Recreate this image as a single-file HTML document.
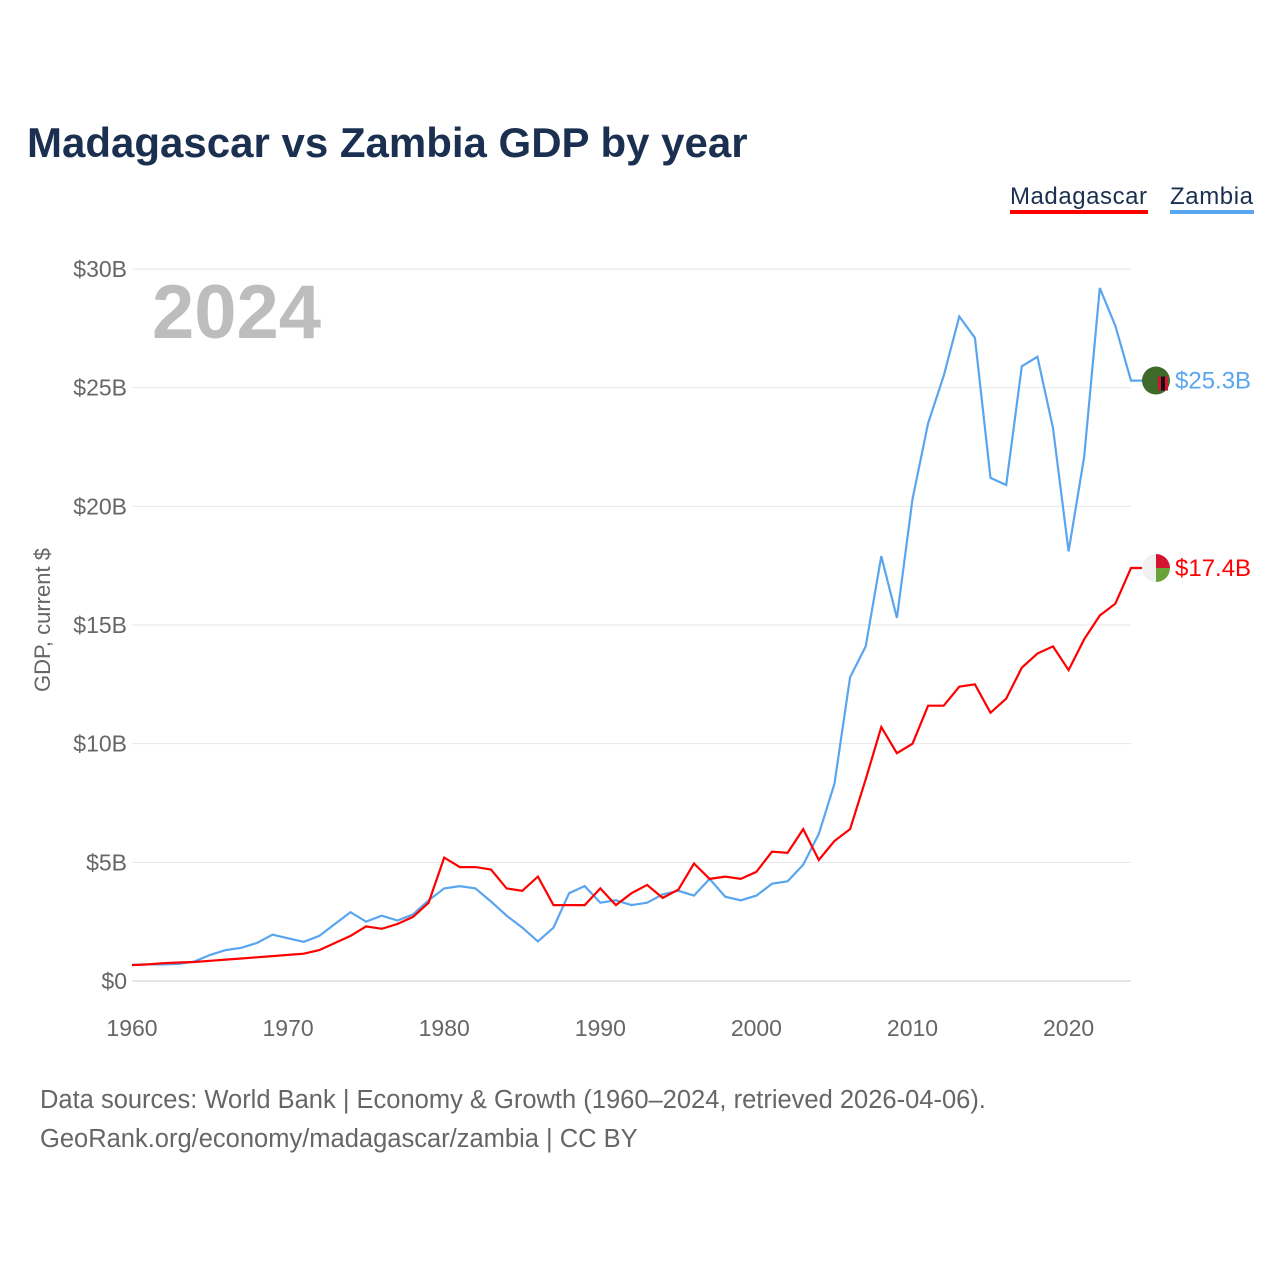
<!DOCTYPE html>
<html><head><meta charset="utf-8">
<style>
body{margin:0;background:#fff;font-family:"Liberation Sans",sans-serif;}
svg text{font-family:"Liberation Sans",sans-serif;}
</style></head>
<body>
<svg width="1280" height="1280" viewBox="0 0 1280 1280">
<text x="27" y="157" font-size="42" font-weight="bold" fill="#1b2f50">Madagascar vs Zambia GDP by year</text>
<g>
<text x="1010" y="204" font-size="24" fill="#1b2f50" textLength="137">Madagascar</text>
<rect x="1010" y="210" width="138" height="4" fill="#ff0000"/></g>
<g>
<text x="1170" y="204" font-size="24" fill="#1b2f50" textLength="83">Zambia</text>
<rect x="1170" y="210" width="84" height="4" fill="#5aa5ef"/></g>
<text x="152" y="338" font-size="76" font-weight="bold" fill="#bdbdbd">2024</text>
<text transform="translate(50,620) rotate(-90)" text-anchor="middle" font-size="22" fill="#666">GDP, current $</text>
<g id="grid"></g><g id="xt"></g><g id="lines"></g>
<text x="40" y="1108" font-size="25.5" fill="#666">Data sources: World Bank | Economy &amp; Growth (1960–2024, retrieved 2026-04-06).</text>
<text x="40" y="1147" font-size="25.5" fill="#666">GeoRank.org/economy/madagascar/zambia | CC BY</text>
</svg>
<script>
const startYear=1960;
const yTicks=[0,5,10,15,20,25,30];
const yTickLabels=["$0","$5B","$10B","$15B","$20B","$25B","$30B"];
const xTicks=[1960,1970,1980,1990,2000,2010,2020];
const zambia=[0.68,0.7,0.7,0.72,0.82,1.1,1.3,1.4,1.6,1.95,1.8,1.65,1.9,2.4,2.9,2.5,2.75,2.55,2.8,3.4,3.9,4.0,3.9,3.35,2.75,2.25,1.67,2.25,3.7,4.0,3.3,3.4,3.2,3.3,3.65,3.8,3.6,4.3,3.55,3.4,3.6,4.1,4.2,4.9,6.2,8.3,12.8,14.1,17.9,15.3,20.3,23.5,25.5,28.0,27.1,21.2,20.9,25.9,26.3,23.3,18.1,22.1,29.2,27.6,25.3];
const madagascar=[0.67,0.7,0.75,0.78,0.8,0.85,0.9,0.95,1.0,1.05,1.1,1.15,1.3,1.6,1.9,2.3,2.2,2.4,2.7,3.3,5.2,4.8,4.8,4.7,3.9,3.8,4.4,3.2,3.2,3.2,3.9,3.2,3.7,4.05,3.5,3.85,4.95,4.3,4.4,4.3,4.6,5.45,5.4,6.4,5.1,5.9,6.4,8.5,10.7,9.6,10.0,11.6,11.6,12.4,12.5,11.3,11.9,13.2,13.8,14.1,13.1,14.4,15.4,15.9,17.4];
const NS="http://www.w3.org/2000/svg";
const X=yr=>132+(yr-1960)*15.61;
const Y=v=>981-v*23.733;
function mk(t,a,p){const e=document.createElementNS(NS,t);for(const k in a)e.setAttribute(k,a[k]);p.appendChild(e);return e;}
const grid=document.getElementById('grid');
yTicks.forEach((v,i)=>{
 const l=mk('line',{x1:132,x2:1131,y1:Y(v),y2:Y(v),stroke:v===0?'#ccc':'#e6e6e6','stroke-width':1},grid);
 
 
 const t=mk('text',{x:127,y:Y(v)+8,'text-anchor':'end','font-size':23,fill:'#666'},grid);
 t.textContent=yTickLabels[i];
 
 
});
const xt=document.getElementById('xt');
xTicks.forEach(yr=>{
 const t=mk('text',{x:X(yr),y:1036,'text-anchor':'middle','font-size':23,fill:'#666'},xt);
 t.textContent=yr;
 
 
});
const lines=document.getElementById('lines');
function series(vals,color,name,label){
 const pts=vals.map((v,i)=>X(startYear+i).toFixed(1)+','+Y(v).toFixed(1));
 const last=vals[vals.length-1];
 pts.push('1142,'+Y(last).toFixed(1));
 const p=mk('polyline',{points:pts.join(' '),fill:'none',stroke:color,'stroke-width':2.2},lines);
 
 
 const c=mk('circle',{cx:1156,cy:Y(last),r:14,fill:name==='zambia'?'#3f6b2a':'#f0f0f0'},lines);
 
 
 if(name==='madagascar'){
  mk('path',{d:`M1156 ${Y(last)} L1156 ${Y(last)-14} A14 14 0 0 1 1170 ${Y(last)} Z`,fill:'#d3132f'},lines);
  mk('path',{d:`M1156 ${Y(last)} L1170 ${Y(last)} A14 14 0 0 1 1156 ${Y(last)+14} Z`,fill:'#6aa23a'},lines);
 }else{
  mk('rect',{x:1158,y:Y(last)-4,width:10,height:14,fill:'#d3132f'},lines);
  mk('rect',{x:1161,y:Y(last)-4,width:4,height:14,fill:'#111'},lines);
 }
 const t=mk('text',{x:1175,y:Y(last)+8,'font-size':24,fill:color},lines);
 t.textContent=label;
 
 
}
series(zambia,'#5aa5ef','zambia','$25.3B');
series(madagascar,'#ff0000','madagascar','$17.4B');
</script>
</body></html>
